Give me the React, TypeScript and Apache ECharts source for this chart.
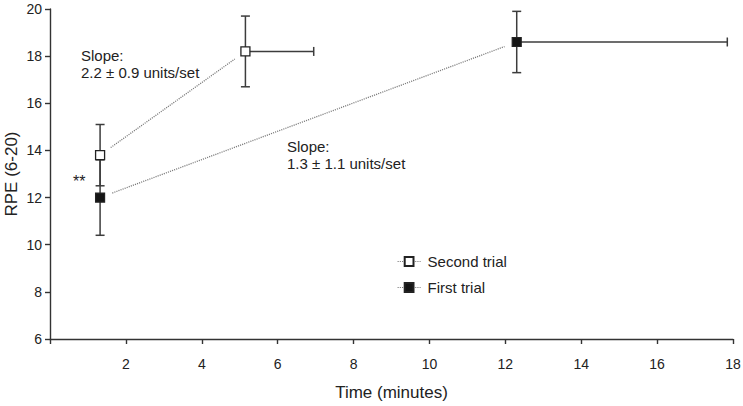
import React, { useEffect, useRef } from "react";
import * as echarts from "echarts";

// ---- Data ----
const xTicks = [0, 2, 4, 6, 8, 10, 12, 14, 16, 18];
const yTicks = [6, 8, 10, 12, 14, 16, 18, 20];

const secondTrialTime = [1.32, 5.15];
const secondTrialRPE = [13.8, 18.2];
const secondTrialRPEErr = [1.3, 1.5];
const secondTrialTimeErr = [0, 1.8];

const firstTrialTime = [1.32, 12.3];
const firstTrialRPE = [12.0, 18.6];
const firstTrialRPEErr = [1.6, 1.3];
const firstTrialTimeErr = [0, 5.55];

const seriesNames = ["Second trial", "First trial"];
const slopeTexts = ["Slope:\n2.2 ± 0.9 units/set", "Slope:\n1.3 ± 1.1 units/set"];
const sigText = "**";
const xAxisName = "Time (minutes)";
const yAxisName = "RPE (6-20)";

const FONT = "'Liberation Sans', Arial, Helvetica, sans-serif";
const TXT = "#222";

function points(t: number[], v: number[]) {
  return t.map((x, i) => [x, v[i]]);
}
function segments(t: number[], v: number[]) {
  const out: number[][] = [];
  for (let i = 0; i < t.length - 1; i++) out.push([t[i], v[i], t[i + 1], v[i + 1]]);
  return out;
}
function errData(t: number[], v: number[], ev: number[], et: number[]) {
  return t.map((x, i) => [x, v[i], v[i] - ev[i], v[i] + ev[i], x + et[i]]);
}

const connectorRender = (params: any, api: any) => {
  const p1 = api.coord([api.value(0), api.value(1)]);
  const p2 = api.coord([api.value(2), api.value(3)]);
  const dx = p2[0] - p1[0];
  const dy = p2[1] - p1[1];
  const len = Math.hypot(dx, dy) || 1;
  const ux = dx / len;
  const uy = dy / len;
  const gap = 13;
  return {
    type: "line",
    shape: {
      x1: p1[0] + ux * gap,
      y1: p1[1] + uy * gap,
      x2: p2[0] - ux * gap,
      y2: p2[1] - uy * gap,
    },
    style: { stroke: "#7a7a7a", lineWidth: 1.3, lineDash: [1.1, 1.1] },
  };
};

const errRender = (params: any, api: any) => {
  const x = api.value(0);
  const y = api.value(1);
  const yLo = api.value(2);
  const yHi = api.value(3);
  const xHi = api.value(4);
  const c = api.coord([x, y]);
  const top = api.coord([x, yHi]);
  const bot = api.coord([x, yLo]);
  const right = api.coord([xHi, y]);
  const cap = 4.5;
  const style = { stroke: "#3c3c3c", lineWidth: 1.5 };
  const children: any[] = [
    { type: "line", shape: { x1: c[0], y1: top[1], x2: c[0], y2: bot[1] }, style },
    { type: "line", shape: { x1: c[0] - cap, y1: top[1], x2: c[0] + cap, y2: top[1] }, style },
    { type: "line", shape: { x1: c[0] - cap, y1: bot[1], x2: c[0] + cap, y2: bot[1] }, style },
  ];
  if (xHi > x) {
    children.push(
      { type: "line", shape: { x1: c[0], y1: c[1], x2: right[0], y2: c[1] }, style },
      { type: "line", shape: { x1: right[0], y1: c[1] - cap, x2: right[0], y2: c[1] + cap }, style }
    );
  }
  return { type: "group", children };
};

export default function App() {
  const ref = useRef<HTMLDivElement>(null);

  useEffect(() => {
    if (!ref.current) return;
    const chart = echarts.init(ref.current, undefined, { renderer: "svg" });
    const legendLine = { color: "#7a7a7a", type: [1.1, 1.1], width: 1.2, opacity: 1 };
    chart.setOption({
      animation: false,
      backgroundColor: "#fff",
      grid: { left: 50, right: 10, top: 9, bottom: 67, containLabel: false, outerBoundsMode: "none" },
      xAxis: {
        type: "value",
        min: xTicks[0],
        max: xTicks[xTicks.length - 1],
        interval: 2,
        name: xAxisName,
        nameLocation: "middle",
        nameGap: 45,
        nameTextStyle: { fontFamily: FONT, fontSize: 17, color: TXT },
        axisLine: { show: true, onZero: false, lineStyle: { color: "#333", width: 1.4 } },
        axisTick: { show: true, inside: false, length: 5, lineStyle: { color: "#333", width: 1.4 } },
        axisLabel: {
          margin: 18,
          fontFamily: FONT,
          fontSize: 14,
          color: TXT,
          formatter: (v: number) => (v === 0 ? "" : String(v)),
        },
        splitLine: { show: false },
      },
      yAxis: {
        type: "value",
        min: yTicks[0],
        max: yTicks[yTicks.length - 1],
        interval: 2,
        axisLine: { show: true, onZero: false, lineStyle: { color: "#333", width: 1.4 } },
        axisTick: { show: true, inside: false, length: 5, lineStyle: { color: "#333", width: 1.4 } },
        axisLabel: { margin: 8, fontFamily: FONT, fontSize: 14, color: TXT },
        splitLine: { show: false },
      },
      legend: {
        orient: "vertical",
        left: 392,
        top: 249,
        itemWidth: 23,
        itemHeight: 11,
        itemGap: 11,
        selectedMode: false,
        textStyle: { fontFamily: FONT, fontSize: 15, color: TXT, padding: [0, 0, 0, 2] },
        data: [
          { name: seriesNames[0], lineStyle: legendLine },
          { name: seriesNames[1], lineStyle: legendLine },
        ],
      },
      graphic: [
        {
          type: "text",
          x: 11,
          y: 174,
          rotation: Math.PI / 2,
          style: {
            text: yAxisName,
            font: `17px ${FONT}`,
            fill: TXT,
            align: "center",
            verticalAlign: "middle",
          },
        },
        {
          type: "text",
          left: 81,
          top: 47,
          style: { text: slopeTexts[0], font: `15px ${FONT}`, lineHeight: 17, fill: TXT },
        },
        {
          type: "text",
          left: 287,
          top: 138,
          style: { text: slopeTexts[1], font: `15px ${FONT}`, lineHeight: 17, fill: TXT },
        },
        {
          type: "text",
          left: 73,
          top: 173,
          style: { text: sigText, font: `16px ${FONT}`, fill: TXT },
        },
      ],
      series: [
        {
          type: "custom",
          name: "conn2",
          renderItem: connectorRender,
          data: segments(secondTrialTime, secondTrialRPE),
          encode: { x: [0, 2], y: [1, 3] },
          z: 1,
          silent: true,
        },
        {
          type: "custom",
          name: "conn1",
          renderItem: connectorRender,
          data: segments(firstTrialTime, firstTrialRPE),
          encode: { x: [0, 2], y: [1, 3] },
          z: 1,
          silent: true,
        },
        {
          type: "custom",
          name: "err1",
          renderItem: errRender,
          data: errData(firstTrialTime, firstTrialRPE, firstTrialRPEErr, firstTrialTimeErr),
          encode: { x: [0, 4], y: [2, 3] },
          z: 2,
          silent: true,
        },
        {
          type: "custom",
          name: "err2",
          renderItem: errRender,
          data: errData(secondTrialTime, secondTrialRPE, secondTrialRPEErr, secondTrialTimeErr),
          encode: { x: [0, 4], y: [2, 3] },
          z: 2,
          silent: true,
        },
        {
          type: "line",
          name: seriesNames[1],
          data: points(firstTrialTime, firstTrialRPE),
          symbol: "rect",
          symbolSize: 9,
          showSymbol: true,
          lineStyle: { opacity: 0 },
          itemStyle: { color: "#151515", borderColor: "#222", borderWidth: 1.2 },
          z: 5,
        },
        {
          type: "line",
          name: seriesNames[0],
          data: points(secondTrialTime, secondTrialRPE),
          symbol: "rect",
          symbolSize: 9,
          showSymbol: true,
          lineStyle: { opacity: 0 },
          itemStyle: { color: "#ffffff", borderColor: "#222", borderWidth: 1.3 },
          z: 6,
        },
      ],
    });
    return () => chart.dispose();
  }, []);

  return (
    <div
      ref={ref}
      style={{ position: "absolute", left: 0, top: 0, width: 743, height: 406, background: "#fff" }}
    />
  );
}
